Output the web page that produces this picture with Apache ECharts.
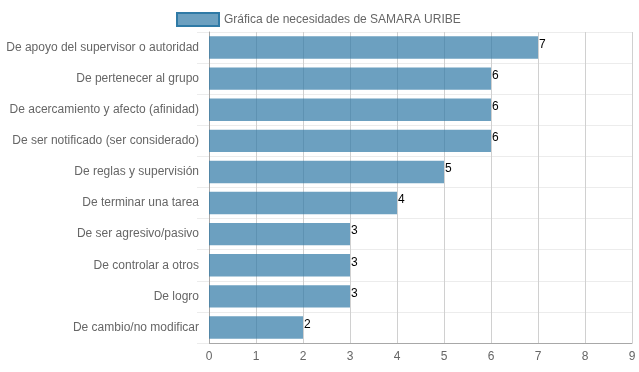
<!DOCTYPE html>
<html><head><meta charset="utf-8">
<script src="https://cdn.jsdelivr.net/npm/echarts@6/dist/echarts.min.js"></script>
<style>html,body{margin:0;padding:0;background:#fff}#c{width:639px;height:372px}</style>
</head><body><div id="c"></div>
<script>
const categories = [
  "De apoyo del supervisor o autoridad",
  "De pertenecer al grupo",
  "De acercamiento y afecto (afinidad)",
  "De ser notificado (ser considerado)",
  "De reglas y supervisión",
  "De terminar una tarea",
  "De ser agresivo/pasivo",
  "De controlar a otros",
  "De logro",
  "De cambio/no modificar"
];
const values = [7, 6, 6, 6, 5, 4, 3, 3, 3, 2];
const seriesName = "Gráfica de necesidades de SAMARA URIBE";
const xMin = 0, xMax = 9, xStep = 1;

const chart = echarts.init(document.getElementById('c'), null, {renderer: 'canvas'});
const font = "'Liberation Sans', Arial, sans-serif";
chart.setOption({
  animation: false,
  textStyle: {fontFamily: font},
  legend: {
    left: 171, top: 7,
    itemWidth: 42, itemHeight: 13, itemGap: 6,
    textStyle: {color: '#666', fontSize: 12, fontFamily: font},
    data: [{name: seriesName, icon: 'rect', itemStyle: {color: 'rgba(45,120,165,0.7)', borderColor: '#2f7aa6', borderWidth: 2}}]
  },
  grid: {left: 209, right: 7, top: 32, bottom: 29, containLabel: false},
  xAxis: {
    type: 'value', min: xMin, max: xMax, interval: xStep,
    axisLine: {show: true, lineStyle: {color: '#a8a8a8', width: 1}},
    axisTick: {show: false},
    axisLabel: {color: '#666', fontSize: 12, fontFamily: font, margin: 8},
    splitLine: {show: true, lineStyle: {color: '#d0d0d0', width: 1}}
  },
  yAxis: {
    type: 'category', inverse: true, data: categories,
    axisLine: {show: true, lineStyle: {color: '#a8a8a8', width: 1}},
    axisTick: {show: true, length: 12, alignWithLabel: false, lineStyle: {color: '#ececec'}},
    axisLabel: {color: '#666', fontSize: 12, fontFamily: font, margin: 10},
    splitLine: {show: true, lineStyle: {color: '#ececec', width: 1}}
  },
  series: [{
    name: seriesName, type: 'bar', data: values,
    barWidth: '72%',
    itemStyle: {color: 'rgba(45,120,165,0.7)'},
    label: {show: true, position: 'right', distance: 1, offset: [0, -3], color: '#000', fontSize: 12, fontFamily: font}
  }]
});
</script></body></html>
